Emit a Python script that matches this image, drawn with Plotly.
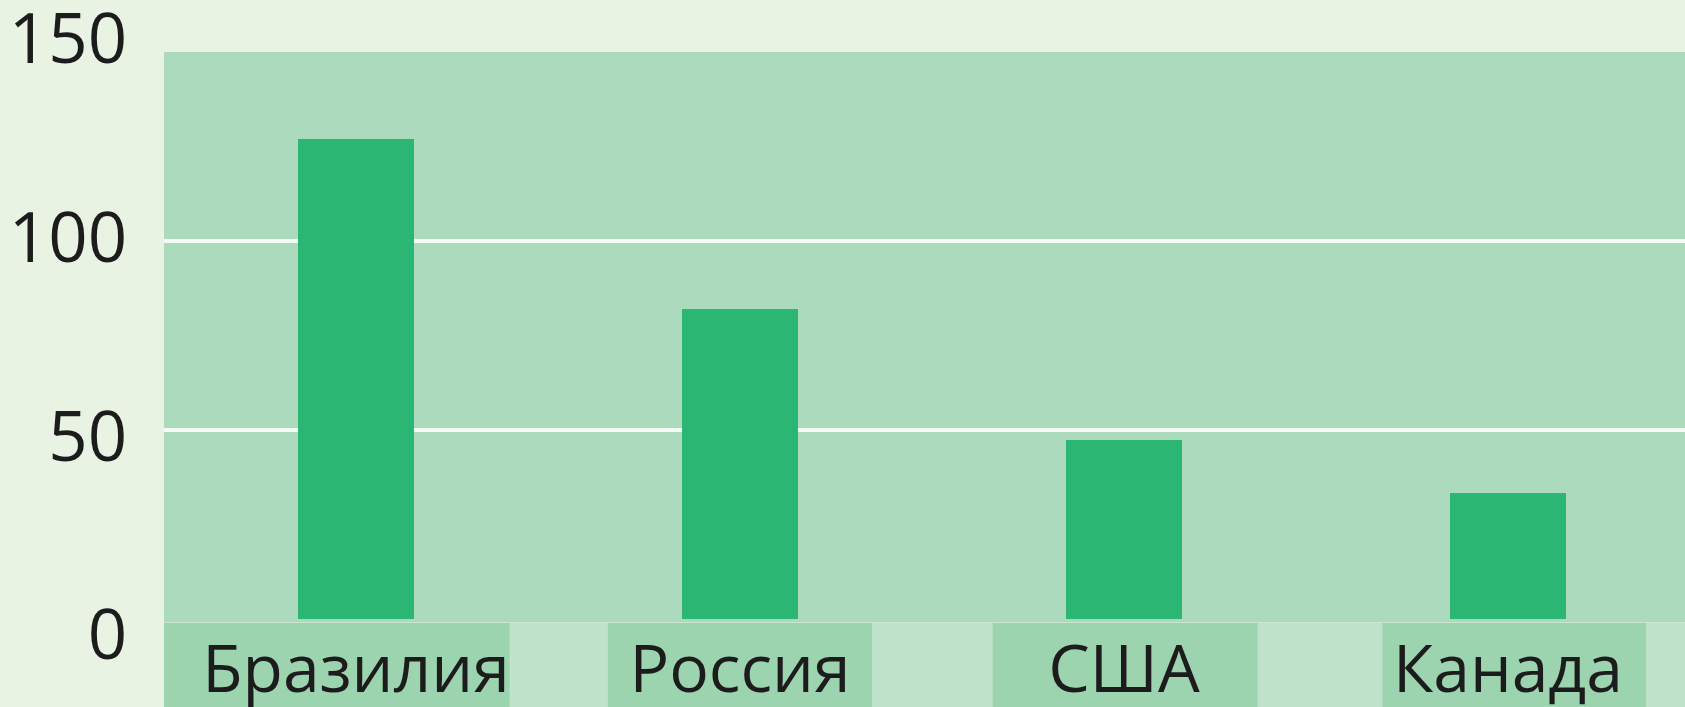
import plotly.graph_objects as go

# Data
countries = ["Бразилия", "Россия", "США", "Канада"]
values = [127, 82, 47.5, 33.3]
y_ticks = [0, 50, 100, 150]

# Colours
PAGE_BG = "#E9F3E3"
PLOT_BG = "#ACDABC"
BAR = "#2BB673"
BAND_DARK = "#9DD4B0"
BAND_LIGHT = "#BFE3CB"
TEXT = "#1C1C1C"
FONT = "Open Sans"

W, H = 1685, 707
plot_top, plot_bottom = 52, 622.5          # pixel rows of the plot area
y_dom = [(H - plot_bottom) / H, (H - plot_top) / H]
x_range = [-0.5, 3.461]

fig = go.Figure()
fig.add_trace(go.Bar(
    x=list(range(len(countries))), y=values, width=0.30,
    marker=dict(color=BAR, line=dict(width=0)),
    hoverinfo="skip", showlegend=False,
))
# carrier trace for the tick-label axis
fig.add_trace(go.Scatter(x=[], y=[], yaxis="y2", showlegend=False))

shapes = [
    # plot area background
    dict(type="rect", xref="x domain", yref="y domain", x0=0, x1=1, y0=0, y1=1,
         fillcolor=PLOT_BG, line=dict(width=0), layer="below"),
    # label strip
    dict(type="rect", xref="x", yref="paper", x0=x_range[0], x1=x_range[1],
         y0=0, y1=y_dom[0] - 0.5 / H, fillcolor=BAND_LIGHT, line=dict(width=0), layer="below"),
]
band_spans = [(-0.5, 0.40), (0.656, 1.344), (1.658, 2.348), (2.673, 3.36)]
for x0, x1 in band_spans:
    shapes.append(dict(type="rect", xref="x", yref="paper", x0=x0, x1=x1,
                       y0=0, y1=y_dom[0] - 0.5 / H, fillcolor=BAND_DARK,
                       line=dict(width=0), layer="below"))

# tick-label axis scale: pixel row = 635.3 - 3.974 * value
lab_top = 635.3 / 3.974
lab_bot = (635.3 - H) / 3.974

fig.update_layout(
    template="none",
    width=W, height=H,
    margin=dict(l=164, r=0, t=0, b=0, pad=0, autoexpand=False),
    paper_bgcolor=PAGE_BG,
    plot_bgcolor="rgba(0,0,0,0)",
    font=dict(family=FONT, color=TEXT),
    bargap=0,
    showlegend=False,
    shapes=shapes,
    xaxis=dict(
        range=x_range, tickmode="array",
        tickvals=list(range(len(countries))), ticktext=countries,
        tickfont=dict(size=66, color=TEXT),
        ticks="", ticklen=0, ticklabelstandoff=2,
        showgrid=False, zeroline=False, showline=False,
        anchor="y", fixedrange=True, automargin=False,
    ),
    yaxis=dict(
        domain=y_dom, range=[-0.8, 150],
        tickvals=[50, 100], showticklabels=False,
        showgrid=True, gridcolor="#F4FBF6", gridwidth=4,
        zeroline=False, showline=False, ticks="", automargin=False,
    ),
    yaxis2=dict(
        domain=[0, 1], range=[lab_bot, lab_top], anchor="x",
        tickvals=y_ticks, ticktext=[str(v) for v in y_ticks],
        tickfont=dict(size=69, color=TEXT),
        ticks="outside", ticklen=22, tickcolor="rgba(0,0,0,0)",
        ticklabeloverflow="allow",
        showgrid=False, zeroline=False, showline=False, automargin=False,
    ),
)

fig.write_html("out.html")
